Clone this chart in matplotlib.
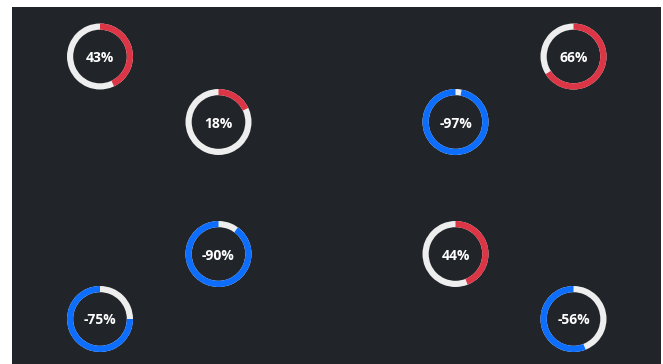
import matplotlib
matplotlib.use("Agg")
import matplotlib.pyplot as plt
from matplotlib.patches import Wedge

# Percent change per gauge
labels = ["43%", "18%", "-97%", "66%", "-90%", "44%", "-75%", "-56%"]
values = [43, 18, -97, 66, -90, 44, -75, -56]

# Gauge centres in panel pixels (x from left, y from top)
cx = [100, 218.5, 455.5, 573.5, 218.5, 455.5, 100, 573.5]
cy = [56.5, 122, 122, 56.5, 254, 254, 319, 319]

W, H = 663, 364
PANEL_L, PANEL_T, PANEL_R = 12, 7, 661
R_OUT, RING = 33, 6.2

BG = "#212529"
TRACK = "#eeeeee"
POS = "#dc3545"
NEG = "#0d6efd"

fig = plt.figure(figsize=(W / 100, H / 100), dpi=100, facecolor="white")
ax = fig.add_axes([PANEL_L / W, 0, (PANEL_R - PANEL_L) / W, (H - PANEL_T) / H])
ax.set_facecolor(BG)
ax.set_xlim(PANEL_L, PANEL_R)
ax.set_ylim(0, H - PANEL_T)
ax.set_axis_off()
ax.add_patch(plt.Rectangle((PANEL_L, 0), PANEL_R - PANEL_L, H - PANEL_T,
                           facecolor=BG, edgecolor="none", zorder=0))

for lab, v, x, y in zip(labels, values, cx, cy):
    yy = H - y
    ax.add_patch(Wedge((x, yy), R_OUT, 0, 360, width=RING,
                       facecolor=TRACK, edgecolor="none", zorder=1))
    sweep = abs(v) * 3.6
    if v >= 0:
        arc = Wedge((x, yy), R_OUT, 90 - sweep, 90, width=RING,
                    facecolor=POS, edgecolor="none", zorder=2)
    else:
        arc = Wedge((x, yy), R_OUT, 90, 90 + sweep, width=RING,
                    facecolor=NEG, edgecolor="none", zorder=2)
    ax.add_patch(arc)
    ax.text(x, yy - 1.5, lab, ha="center", va="center", color="white",
            fontsize=10, fontweight="bold", family=["Open Sans", "DejaVu Sans"],
            zorder=3)

fig.savefig("out.png", dpi=100, facecolor="white")
